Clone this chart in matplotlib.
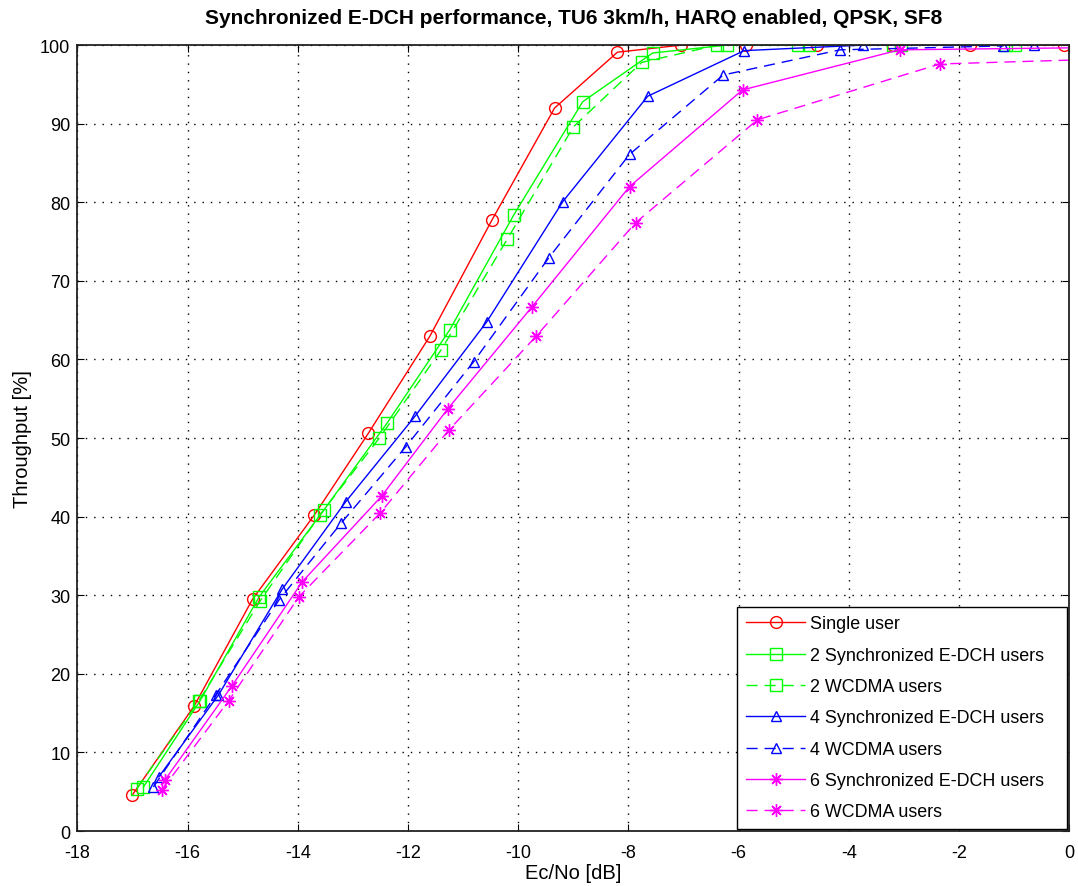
import matplotlib
matplotlib.use("Agg")
import matplotlib.pyplot as plt

# Ec/No [dB] and throughput [%]
single_x = [-17.0, -15.88, -14.82, -13.7, -12.72, -11.6, -10.48, -9.34, -8.2, -7.04, -5.86, -4.57, -3.2, -1.8, -0.1]
single_y = [4.6, 15.9, 29.5, 40.2, 50.6, 63.0, 77.7, 92.0, 99.1, 100, 100, 100, 100, 100, 100]

sync2_x = [-16.8, -15.77, -14.7, -13.52, -12.38, -11.24, -10.08, -8.83, -7.56, -6.22, -4.73, -3.05, -0.98]
sync2_y = [5.6, 16.6, 29.8, 40.9, 51.9, 63.8, 78.4, 92.8, 99.0, 100, 100, 100, 100]

wcdma2_x = [-16.92, -15.8, -14.68, -13.6, -12.52, -11.4, -10.2, -9.0, -7.76, -6.39, -4.93, -3.2, -1.15]
wcdma2_y = [5.4, 16.5, 29.3, 40.2, 50.0, 61.2, 75.3, 89.6, 97.8, 100, 100, 100, 100]

sync4_x = [-16.52, -15.44, -14.28, -13.13, -11.87, -10.57, -9.19, -7.65, -5.9, -3.75, -0.65]
sync4_y = [6.9, 17.3, 30.8, 41.9, 52.8, 64.8, 80.1, 93.5, 99.3, 100, 100]

wcdma4_x = [-16.62, -15.49, -14.34, -13.21, -12.04, -10.81, -9.45, -7.98, -6.28, -4.16, -1.2]
wcdma4_y = [5.6, 17.3, 29.4, 39.2, 48.9, 59.7, 72.9, 86.1, 96.2, 99.4, 99.9]

sync6_x = [-16.41, -15.19, -13.92, -12.48, -11.28, -9.75, -7.98, -5.93, -3.08, 0.6]
sync6_y = [6.5, 18.5, 31.7, 42.6, 53.7, 66.7, 82.0, 94.3, 99.4, 99.7]

wcdma6_x = [-16.47, -15.25, -13.98, -12.5, -11.26, -9.67, -7.87, -5.66, -2.35, 1.0]
wcdma6_y = [5.2, 16.6, 29.8, 40.5, 51.0, 63.0, 77.4, 90.5, 97.6, 98.3]

x_ticks = list(range(-18, 1, 2))
y_ticks = list(range(0, 101, 10))

plt.rcParams["font.family"] = ["Liberation Sans", "DejaVu Sans"]
plt.rcParams["axes.unicode_minus"] = False

fig = plt.figure(figsize=(10.78, 8.87), dpi=100)
ax = fig.add_axes([0.0717, 0.062, 0.9203, 0.886])

dash = (0, (8, 5))
red, green, blue, magenta = (1, 0, 0), (0, 1, 0), (0, 0, 1), (1, 0, 1)
star = (8, 2, 0)
series = [
    (single_x, single_y, red, "o", "-", 8.5, "Single user"),
    (sync2_x, sync2_y, green, "s", "-", 8.5, "2 Synchronized E-DCH users"),
    (wcdma2_x, wcdma2_y, green, "s", dash, 8.5, "2 WCDMA users"),
    (sync4_x, sync4_y, blue, "^", "-", 7.5, "4 Synchronized E-DCH users"),
    (wcdma4_x, wcdma4_y, blue, "^", dash, 7.5, "4 WCDMA users"),
    (sync6_x, sync6_y, magenta, star, "-", 9, "6 Synchronized E-DCH users"),
    (wcdma6_x, wcdma6_y, magenta, star, dash, 9, "6 WCDMA users"),
]
for xs, ys, col, mk, ls, ms, lab in series:
    ax.plot(xs, ys, color=col, marker=mk, linestyle=ls, linewidth=1.0,
            markersize=ms, markerfacecolor="none",
            markeredgecolor=col, markeredgewidth=1.0, label=lab)

ax.set_xlim(-18, 0)
ax.set_ylim(0, 100)
ax.set_xticks(x_ticks)
ax.set_yticks(y_ticks)
ax.grid(True, color="black", linestyle=(0, (1, 5)), linewidth=1.0)
ax.tick_params(direction="in", length=5, top=True, right=True, labelsize=13)
ax.tick_params(axis="x", pad=9)
ax.tick_params(axis="y", pad=5)
for s in ax.spines.values():
    s.set_linewidth(1.3)
    s.set_color("#222222")

ax.set_xlabel("Ec/No [dB]", fontsize=14.5, labelpad=2)
ax.set_ylabel("Throughput [%]", fontsize=14.5, labelpad=6)
ax.set_title("Synchronized E-DCH performance, TU6 3km/h, HARQ enabled, QPSK, SF8",
             fontsize=15, fontweight="bold", pad=16)

leg = ax.legend(loc="lower left", bbox_to_anchor=(0.665, 0.002, 0.333, 0.3),
                mode="expand", fontsize=12.9, fancybox=False, framealpha=1,
                edgecolor="black", borderaxespad=0, handlelength=3.3,
                handletextpad=0.3, labelspacing=0.8, borderpad=0.5)
leg.get_frame().set_linewidth(1.0)

fig.savefig("out.png", dpi=100)
